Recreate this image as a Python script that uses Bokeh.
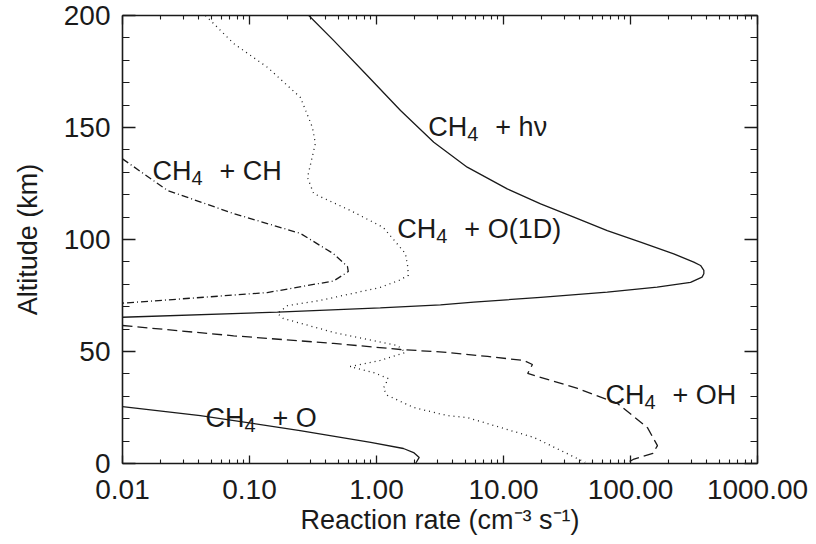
from bokeh.plotting import figure
from bokeh.models import (FixedTicker, SingleIntervalTicker, LogAxis, LinearAxis,
                          PrintfTickFormatter, CustomJSTickFormatter, ColumnDataSource)
from bokeh.core.properties import value
from bokeh.embed import file_html
from bokeh.resources import INLINE

# ---- data ----
hv_rate = [0.293, 0.461, 0.845, 1.546, 2.825, 5.18, 10.7, 19.6, 35.8, 65.6, 120, 219, 315,
           356, 378, 378, 366, 297, 162, 65.6, 19.6, 5.83, 3.19, 1.07, 0.166, 0.01]
hv_alt = [200, 188.8, 173.2, 157.6, 143.4, 132.3, 122.6, 115.9, 110, 104, 98.8, 93.6, 89.9,
          88.4, 86.2, 84.7, 83.2, 80.9, 78.7, 76.5, 74.2, 72, 70.8, 69.5, 67.6, 65.3]

o_rate = [0.01, 0.041, 0.25, 0.9, 1.63, 1.96, 2.17, 2.03]
o_alt = [25.4, 21.4, 14.7, 9.4, 6.7, 4.9, 2.7, 0]

ch_rate = [0.01, 0.0226, 0.0748, 0.252, 0.457, 0.59, 0.60, 0.46, 0.138, 0.041, 0.01]
ch_alt = [136, 121.9, 111.6, 102.7, 93.7, 88, 85.7, 81.5, 76.3, 74.1, 71.6]

o1d_rate = [0.045, 0.075, 0.139, 0.252, 0.313, 0.33, 0.286, 0.32, 0.62, 1.13, 1.69, 1.76, 1.78,
            1.5, 1.07, 0.36, 0.2, 0.166, 0.185, 0.46, 1.46, 1.69, 1.07, 0.62, 0.95, 1.24, 1.13,
            1.22, 1.96, 3.6, 5.2, 17.4, 44]
o1d_alt = [200, 187.5, 176.8, 163.4, 150, 142.8, 127.7, 120.5, 113, 105.4, 93.7, 88, 84,
           81.7, 78.6, 72.8, 70.5, 67, 64.7, 58.5, 52.7, 49.6, 46, 43.3, 40.6, 37.9, 33.5,
           30.4, 25, 21.4, 20.5, 11.6, 0.5]

oh_rate = [0.01, 0.075, 0.46, 1.55, 3.6, 7.5, 14.4, 16.9, 15.5, 38.3, 79, 136, 163, 150, 105, 91]
oh_alt = [61.6, 57, 53.6, 50.9, 49.6, 47.8, 46, 44.2, 40.2, 33.5, 26.8, 16, 8, 4.5, 1.8, 0]

# curve labels: "CH" + subscript "4" + rest
label_main = ["CH", "CH", "CH", "CH", "CH"]
label_sub = ["4", "4", "4", "4", "4"]
label_rest = ["+  h\u03bd", "+  CH", "+  O(1D)", "+  O", "+  OH"]
label_x = [2.56, 0.0172, 1.46, 0.045, 63.5]
label_y = [150.4, 130.8, 104.9, 20.5, 30.8]

x_major = [0.01, 0.1, 1, 10, 100, 1000]
x_minor = [k * 10.0 ** e for e in range(-2, 3) for k in range(2, 10)]

x_title = "Reaction rate (cm\u207b\u00b3 s\u207b\u00b9)"
y_title = "Altitude (km)"

FONT = "Liberation Sans"
INK = "#1a1a1a"

p = figure(width=816, height=544, x_axis_type="log", x_range=(0.01, 1000), y_range=(0, 200),
           output_backend="svg", toolbar_location=None,
           min_border_left=122, min_border_right=59, min_border_top=15, min_border_bottom=81)
p.xgrid.visible = False
p.ygrid.visible = False
p.outline_line_color = None
p.background_fill_color = "white"
p.border_fill_color = "white"

LW = 1.3
p.line(hv_rate, hv_alt, line_color=INK, line_width=LW)
p.line(o_rate, o_alt, line_color=INK, line_width=LW)
p.line(ch_rate, ch_alt, line_color=INK, line_width=LW, line_dash="7 3 1 3")
p.line(o1d_rate, o1d_alt, line_color=INK, line_width=LW, line_dash="1 4")
p.line(oh_rate, oh_alt, line_color=INK, line_width=LW, line_dash="10 5")

src = ColumnDataSource(dict(x=label_x, y=label_y, m=label_main, s=label_sub, r=label_rest))
common = dict(source=src, text_font=value(FONT), text_color=INK,
              text_baseline="alphabetic", text_align="left")
p.text(x="x", y="y", text="m", text_font_size="27px", **common)
p.text(x="x", y="y", text="s", text_font_size="20px", x_offset=39, y_offset=7, **common)
p.text(x="x", y="y", text="r", text_font_size="27px", x_offset=67, **common)


def style(ax, maj_in, min_in):
    ax.axis_line_color = INK
    ax.axis_line_width = 1.6
    ax.major_tick_line_color = INK
    ax.minor_tick_line_color = INK
    ax.major_tick_line_width = 1.3
    ax.minor_tick_line_width = 1.1
    ax.major_tick_in = maj_in
    ax.major_tick_out = 0
    ax.minor_tick_in = min_in
    ax.minor_tick_out = 0
    ax.major_label_text_font = FONT
    ax.major_label_text_font_size = "28px"
    ax.major_label_text_color = INK
    ax.axis_label_text_font = FONT
    ax.axis_label_text_font_size = "27px"
    ax.axis_label_text_font_style = "normal"
    ax.axis_label_text_color = INK


xb = p.xaxis[0]
xb.ticker = FixedTicker(ticks=x_major, minor_ticks=x_minor)
xb.formatter = PrintfTickFormatter(format="%.2f")
xb.axis_label = x_title
style(xb, 8, 4)
xb.major_label_standoff = 16
xb.axis_label_standoff = 3

yl = p.yaxis[0]
yl.ticker = SingleIntervalTicker(interval=50, num_minor_ticks=5)
yl.axis_label = y_title
style(yl, 13, 7)
yl.major_label_standoff = 12
yl.axis_label_standoff = 18

blank = CustomJSTickFormatter(code="return '';")
xt = LogAxis(ticker=FixedTicker(ticks=x_major, minor_ticks=x_minor), formatter=blank)
style(xt, 9, 4)
xt.major_label_standoff = 0
p.add_layout(xt, "above")

yr = LinearAxis(ticker=SingleIntervalTicker(interval=50, num_minor_ticks=5), formatter=blank)
style(yr, 13, 7)
yr.major_label_standoff = 0
p.add_layout(yr, "right")

open("out.html", "w").write(file_html(p, INLINE))
